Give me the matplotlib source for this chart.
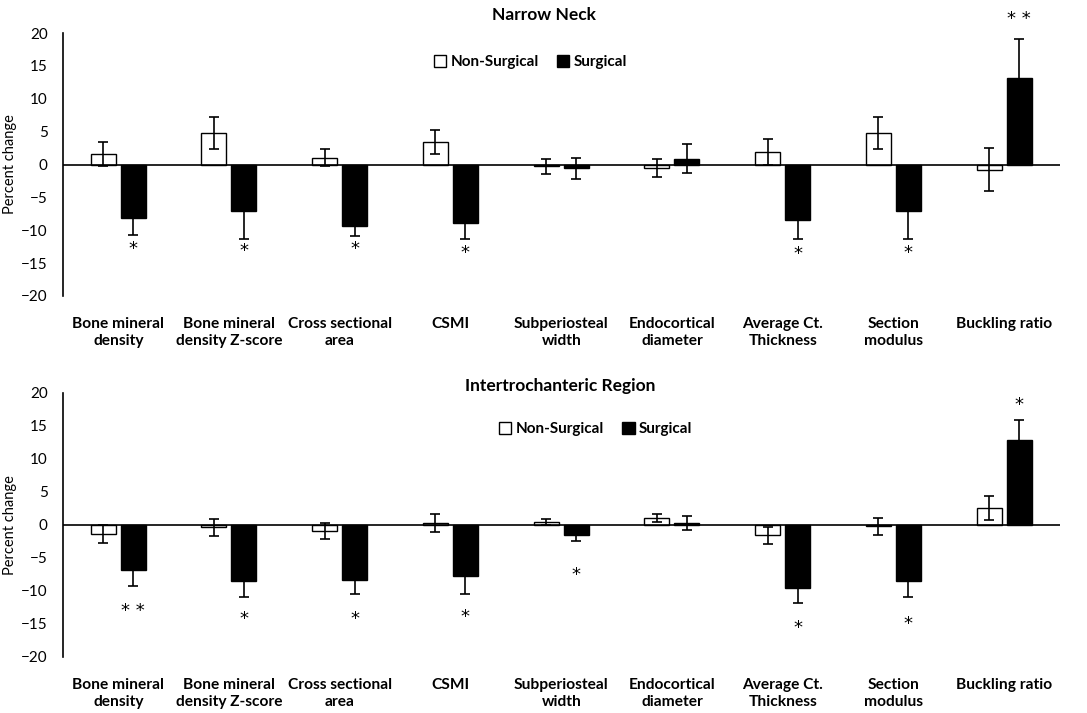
import numpy as np
import matplotlib.pyplot as plt

plt.rcParams['font.family'] = ['Lato', 'DejaVu Sans']

categories = ['Bone mineral\ndensity', 'Bone mineral\ndensity Z-score', 'Cross sectional\narea',
              'CSMI', 'Subperiosteal\nwidth', 'Endocortical\ndiameter', 'Average Ct.\nThickness',
              'Section\nmodulus', 'Buckling ratio']

# Narrow Neck
nn_nonsurg = [1.6, 4.8, 1.0, 3.4, -0.3, -0.5, 1.9, 4.8, -0.8]
nn_nonsurg_err = [1.8, 2.5, 1.3, 1.8, 1.1, 1.4, 2.0, 2.5, 3.3]
nn_surg = [-8.2, -7.0, -9.3, -8.9, -0.6, 0.9, -8.4, -7.0, 13.1]
nn_surg_err = [2.5, 4.3, 1.6, 2.5, 1.6, 2.2, 3.0, 4.3, 6.0]
nn_stars = ['*', '*', '*', '*', '', '', '*', '*', '**']
nn_star_y = [-12.8, -13.1, -12.8, -13.4, 0, 0, -13.6, -13.4, 22.1]

# Intertrochanteric Region
it_nonsurg = [-1.4, -0.4, -0.9, 0.3, 0.4, 1.0, -1.6, -0.2, 2.5]
it_nonsurg_err = [1.3, 1.3, 1.2, 1.4, 0.5, 0.6, 1.3, 1.3, 1.8]
it_surg = [-6.9, -8.6, -8.4, -7.8, -1.6, 0.3, -9.6, -8.6, 12.8]
it_surg_err = [2.4, 2.4, 2.1, 2.7, 0.9, 1.1, 2.3, 2.4, 3.1]
it_stars = ['**', '*', '*', '*', '*', '', '*', '*', '*']
it_star_y = [-13.1, -14.3, -14.3, -14.0, -7.6, 0, -15.7, -15.0, 18.1]

fig = plt.figure(figsize=(10.87, 7.13), dpi=100)

def panel(rect, title, title_pos, nonsurg, nonsurg_err, surg, surg_err, stars, star_y, leg_anchor):
    ax = fig.add_axes(rect)
    x = np.arange(len(categories))
    w = 0.226
    ekw = dict(elinewidth=1.2, capthick=1.2, ecolor='black')
    ax.bar(x - 0.138, nonsurg, w, color='white', edgecolor='black', linewidth=1.0,
           yerr=nonsurg_err, capsize=3.6, error_kw=ekw, label='Non-Surgical', zorder=2)
    ax.bar(x + 0.132, surg, w, color='black', edgecolor='black', linewidth=1.0,
           yerr=surg_err, capsize=3.6, error_kw=ekw, label='Surgical', zorder=2)
    ax.axhline(0, color='black', linewidth=1.2, zorder=3)
    for xi, s, sy in zip(x, stars, star_y):
        if s:
            ax.text(xi + 0.132, sy, s.replace('**', '* *'), ha='center', va='center',
                    fontsize=13, family='DejaVu Sans', clip_on=False)
    ax.set_xlim(-0.5, len(categories) - 0.5)
    ax.set_ylim(-20, 20)
    ax.set_yticks(range(-20, 21, 5))
    ax.set_xticks(x)
    ax.set_xticklabels(categories, fontsize=11.2, fontweight='bold', linespacing=1.3)
    ax.tick_params(axis='x', length=0, pad=15)
    ax.tick_params(axis='y', length=0, pad=11, labelsize=11)
    for s in ['top', 'right', 'bottom']:
        ax.spines[s].set_visible(False)
    ax.spines['left'].set_linewidth(1.2)
    ax.set_ylabel('Percent change', fontsize=10.5)
    ax.yaxis.set_label_coords(-0.046, 0.5)
    fig.text(title_pos[0], title_pos[1], title, ha='center', va='center', fontsize=12.5, fontweight='bold')
    leg = ax.legend(loc='center', bbox_to_anchor=leg_anchor, bbox_transform=fig.transFigure,
                    ncol=2, frameon=False, fontsize=11, handlelength=0.8, handleheight=0.8,
                    handletextpad=0.3, columnspacing=1.2)
    for t in leg.get_texts():
        t.set_fontweight('bold')
    return ax

panel([0.058, 0.585, 0.917, 0.3685], 'Narrow Neck', (0.5, 0.979),
      nn_nonsurg, nn_nonsurg_err, nn_surg, nn_surg_err, nn_stars, nn_star_y, (0.488, 0.913))
panel([0.058, 0.079, 0.917, 0.370], 'Intertrochanteric Region', (0.515, 0.458),
      it_nonsurg, it_nonsurg_err, it_surg, it_surg_err, it_stars, it_star_y, (0.548, 0.398))

fig.savefig('out.png', dpi=100)
